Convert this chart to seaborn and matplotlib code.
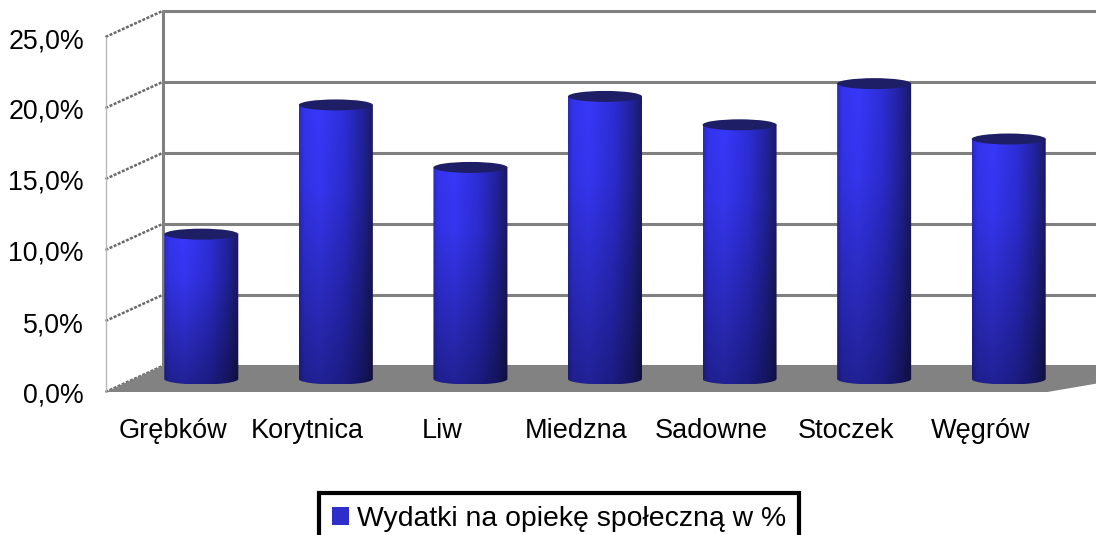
import numpy as np
import pandas as pd
import seaborn as sns
import matplotlib.pyplot as plt
from matplotlib import transforms
from matplotlib.patches import Polygon, Ellipse, PathPatch, Patch
from matplotlib.path import Path
from matplotlib.colors import to_rgb

# Dane
gminy = ['Grębków', 'Korytnica', 'Liw', 'Miedzna', 'Sadowne', 'Stoczek', 'Węgrów']
wydatki = [10.2, 19.3, 14.9, 19.9, 17.9, 20.8, 16.9]
y_ticks = [0, 5, 10, 15, 20, 25]
seria = 'Wydatki na opiekę społeczną w %'

df = pd.DataFrame({'gmina': gminy, 'wydatki': wydatki})

sns.set_style('white')
plt.rcParams['font.family'] = ['Liberation Sans', 'DejaVu Sans']
plt.rcParams['text.color'] = 'black'

fig = plt.figure(figsize=(10.96, 5.35), dpi=100)
# axes = plaszczyzna srodkowa (glebokosc slupkow)
ax = fig.add_axes([134 / 1096, 1 - 379 / 535, 942 / 1096, 355 / 535])
sns.barplot(data=df, x='gmina', y='wydatki', color='#2b2bd0', width=0.55,
            ax=ax, zorder=3)
ax.set_xlim(-0.5, 6.5)
ax.set_ylim(0, 25)
ax.axis('off')

dpi_t = fig.dpi_scale_trans
back = transforms.ScaledTranslation(0.285, 0.13, dpi_t)
front = transforms.ScaledTranslation(-0.285, -0.13, dpi_t)
yax = ax.get_yaxis_transform()
grid_col = '#808080'

# sciana tylna - linie siatki
for v in y_ticks:
    ax.plot([0, 1.1], [v, v], transform=yax + back, color=grid_col, lw=2.2,
            clip_on=False, zorder=1)
ax.plot([0, 0], [0, 25], transform=yax + back, color=grid_col, lw=2.2,
        clip_on=False, zorder=1)

fig.canvas.draw()


def to_px(x, y, off):
    return (yax + off).transform((x, y))


# sciana boczna
for v in y_ticks:
    p1, p2 = to_px(0, v, front), to_px(0, v, back)
    ax.plot([p1[0], p2[0]], [p1[1], p2[1]], transform=transforms.IdentityTransform(),
            color='#6a6a6a', lw=1.8, ls=(0, (1.2, 0.6)), clip_on=False, zorder=1)
p1, p2 = to_px(0, 0, front), to_px(0, 25, front)
ax.plot([p1[0], p2[0]], [p1[1], p2[1]], transform=transforms.IdentityTransform(),
        color='#b8b8b8', lw=1.0, clip_on=False, zorder=1)

# podloga
floor = [to_px(0, 0, front), to_px(0, 0, back), to_px(1.1, 0, back), to_px(1, 0, front)]
ax.add_patch(Polygon(floor, closed=True, transform=transforms.IdentityTransform(),
                     facecolor='#828282', edgecolor='none', clip_on=False, zorder=2))

# walce z gradientem
stops = [0.0, 0.07, 0.28, 0.6, 0.85, 1.0]
cols = [to_rgb(c) for c in ['#2a2ac0', '#3434ee', '#3838fa', '#2e2ed8', '#22229c', '#1a1a5e']]
nx = 200
xs = np.linspace(0, 1, nx)
prof = np.stack([np.interp(xs, stops, [c[k] for c in cols]) for k in range(3)], axis=-1)
ny = 200
fy = np.interp(np.linspace(0, 1, ny), [0, 0.7, 1], [0.6, 0.95, 1.0])
img = prof[None, :, :] * fy[:, None, None]

eh = 5.5 / (355 / 25)
for bar in ax.patches[:len(gminy)]:
    x0, w, h = bar.get_x(), bar.get_width(), bar.get_height()
    cx = x0 + w / 2
    th = np.linspace(np.pi, 2 * np.pi, 60)
    verts = [(x0, h)] + list(zip(cx + w / 2 * np.cos(th), eh * np.sin(th))) + [(x0 + w, h), (x0, h)]
    body = PathPatch(Path(verts, closed=True), transform=ax.transData,
                     facecolor='none', edgecolor='none', clip_on=False)
    ax.add_patch(body)
    im = ax.imshow(img, extent=(x0, x0 + w, -eh, h), origin='lower',
                   aspect='auto', zorder=3, interpolation='bilinear')
    im.set_clip_box(fig.bbox)
    im.set_clip_path(body)
    bar.set_visible(False)
    ax.add_patch(Ellipse((cx, h), w, 2 * eh, facecolor='#1e1e66',
                         edgecolor='none', zorder=4, clip_on=False))

ax.set_xlim(-0.5, 6.5)
ax.set_ylim(0, 25)

# etykiety
lab_off = transforms.ScaledTranslation(-0.285, -0.13 - 0.46, dpi_t)
for i, g in enumerate(gminy):
    ax.text(i, 0, g, transform=ax.transData + lab_off, ha='center',
            va='baseline', fontsize=19.5, color='black', clip_on=False)

tick_off = transforms.ScaledTranslation(-0.285 - 0.215, -0.13 - 0.11, dpi_t)
for v in y_ticks:
    ax.text(0, v, f'{v:.1f}%'.replace('.', ','), transform=yax + tick_off,
            ha='right', va='baseline', fontsize=19.3, color='black', clip_on=False)

leg = fig.legend(handles=[Patch(facecolor='#2e2ec8', edgecolor='none')], labels=[seria],
                 loc='upper center', bbox_to_anchor=(559 / 1096, 1 - 493 / 535),
                 frameon=True, fancybox=False, edgecolor='black', framealpha=1,
                 fontsize=20.4, handlelength=0.6, handleheight=0.6,
                 handletextpad=0.3, borderpad=0.45, borderaxespad=0,
                 labelcolor='black')
leg.get_frame().set_linewidth(3)

fig.savefig('out.png', dpi=100)
